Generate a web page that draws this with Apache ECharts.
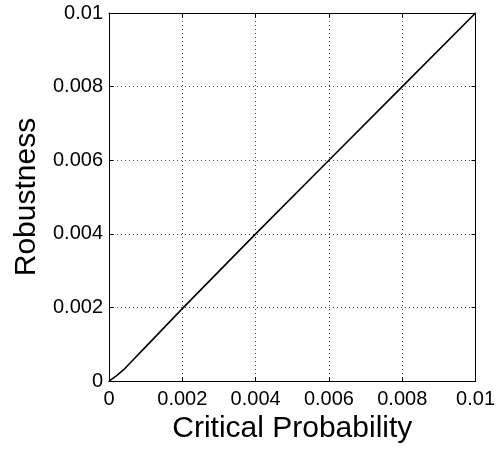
<!DOCTYPE html>
<html><head><meta charset="utf-8">
<script src="https://cdn.jsdelivr.net/npm/echarts@6/dist/echarts.min.js"></script>
<style>html,body{margin:0;padding:0;background:#fff}#c{width:498px;height:449px}</style>
</head><body><div id="c"></div>
<script>
const xValues = [0, 0.0002, 0.0004, 0.0007, 0.001, 0.002, 0.004, 0.006, 0.008, 0.01];
const yValues = [0, 0.00014, 0.00031, 0.00062, 0.00093, 0.00197, 0.004, 0.006, 0.008, 0.01];
const tickLabels = ['0', '0.002', '0.004', '0.006', '0.008', '0.01'];
const xTitle = 'Critical Probability';
const yTitle = 'Robustness';

const fmt = v => tickLabels[Math.round(v / 0.002)] || '';
const font = 'Liberation Sans, Arial, sans-serif';
const chart = echarts.init(document.getElementById('c'));
const axisCommon = {
  type: 'value', min: 0, max: 0.01, interval: 0.002,
  axisLine: { show: true, onZero: false, lineStyle: { color: '#000', width: 1 } },
  axisTick: { show: true, inside: true, length: 4, lineStyle: { color: '#000' } },
};
chart.setOption({
  animation: false,
  backgroundColor: '#fff',
  grid: { left: 109, right: 21, top: 13, bottom: 67, containLabel: false },
  xAxis: [
    Object.assign({}, axisCommon, {
      position: 'bottom',
      name: xTitle, nameLocation: 'middle', nameGap: 18,
      nameTextStyle: { fontFamily: font, fontSize: 30, color: '#000', verticalAlign: 'top' },
      axisLabel: { formatter: fmt, fontFamily: font, fontSize: 20, color: '#000', margin: 8 },
      splitLine: { show: true, lineStyle: { color: '#444', type: [1, 3], width: 1 } }
    }),
    Object.assign({}, axisCommon, {
      position: 'top', axisLabel: { show: false }, splitLine: { show: false }
    })
  ],
  yAxis: [
    Object.assign({}, axisCommon, {
      position: 'left',
      name: yTitle, nameLocation: 'middle', nameGap: 67,
      nameTextStyle: { fontFamily: font, fontSize: 30, color: '#000' },
      axisLabel: { formatter: fmt, fontFamily: font, fontSize: 20, color: '#000', margin: 6 },
      splitLine: { show: true, lineStyle: { color: '#444', type: [1, 3], width: 1 } }
    }),
    Object.assign({}, axisCommon, {
      position: 'right', axisLabel: { show: false }, splitLine: { show: false }
    })
  ],
  series: [{
    type: 'line',
    data: xValues.map((x, i) => [x, yValues[i]]),
    showSymbol: false,
    lineStyle: { color: '#000', width: 1.6 },
    xAxisIndex: 0, yAxisIndex: 0
  }]
});
</script></body></html>
